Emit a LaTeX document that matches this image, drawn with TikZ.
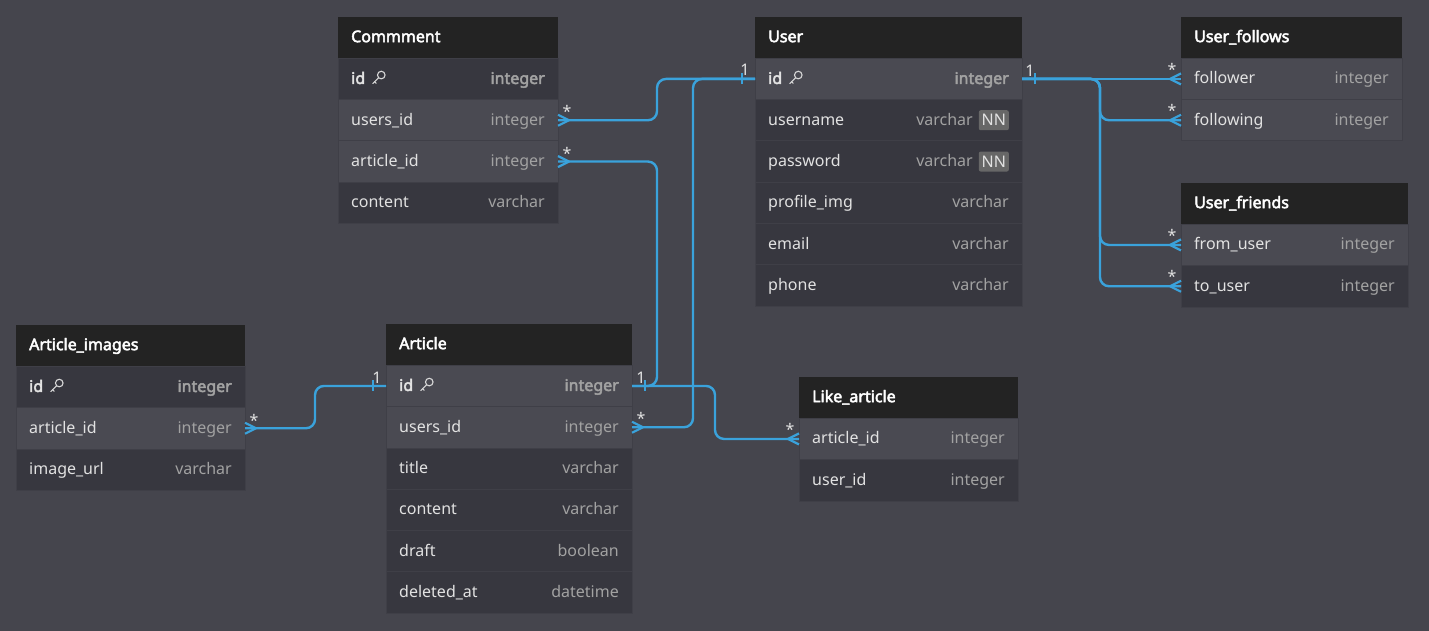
\documentclass[tikz,border=0pt]{standalone}
\usepackage{fontspec}
\setmainfont{Noto Sans}[BoldFont={Noto Sans},BoldFeatures={FakeBold=3}]
\usetikzlibrary{calc}
\definecolor{bgc}{HTML}{45454D}
\definecolor{hdc}{HTML}{232323}
\definecolor{lrow}{HTML}{4A4A52}
\definecolor{drow}{HTML}{37373F}
\definecolor{sepc}{HTML}{3F3F47}
\definecolor{ftxt}{HTML}{E2E2E2}
\definecolor{ttxt}{HTML}{A2A2A2}
\definecolor{linec}{HTML}{3AA2DB}
\definecolor{nnbox}{HTML}{676767}
\definecolor{keyc}{HTML}{D8D8D8}
\tikzset{
  headbox/.style={fill=hdc, draw=none, minimum height=41.3pt, inner sep=0pt, outer sep=0pt},
  rowbox/.style={draw=sepc, line width=0.8pt, minimum height=41.3pt, inner sep=0pt, outer sep=0pt},
  headtxt/.style={text=white, inner sep=0pt, font=\fontsize{16}{19}\selectfont\bfseries},
  fieldtxt/.style={text=ftxt, inner sep=0pt, font=\fontsize{16}{19}\selectfont},
  typetxt/.style={text=ttxt, inner sep=0pt, font=\fontsize{16}{19}\selectfont},
  nnbadge/.style={fill=nnbox, rounded corners=2pt, minimum width=30pt, minimum height=20pt, inner sep=0pt, text=ftxt, font=\fontsize{16}{19}\selectfont},
  conn/.style={draw=linec, line width=2.4pt, rounded corners=9pt, line join=round},
  footline/.style={draw=linec, line width=2.2pt, line join=round},
  card/.style={text=ftxt, inner sep=0pt, font=\fontsize{16}{19}\selectfont},
  keyicon/.pic={
    \draw[keyc, line width=1.1pt] (2.9,-2.9) circle (3.8pt);
    \draw[keyc, line width=1.1pt, line cap=round] (0.2,-0.2) -- (-5.6,5.6);
    \draw[keyc, line width=1.1pt, line cap=round] (-3.8,3.8) -- (-2.2,5.4);
  },
  crowE/.pic={\draw[footline] (0,-5.5) -- (11,0) -- (0,5.5);},
  crowW/.pic={\draw[footline] (0,-5.5) -- (-11,0) -- (0,5.5);},
  tickE/.pic={\draw[footline] (13,-5.5) -- (13,5.5);},
  tickW/.pic={\draw[footline] (-13,-5.5) -- (-13,5.5);}
}
% header: name, x, y, width, title
\newcommand\ehead[5]{%
  \node[headbox, minimum width=#4pt, anchor=north west] (#1) at (#2,#3) {};
  \node[headtxt, anchor=base west] (#1-t) at ([xshift=13pt,yshift=-4.5pt]#1.west) {#5};}
% row: name, position, width, fill, field, type, right padding
\newcommand\erow[7]{%
  \node[rowbox, fill=#4, minimum width=#3pt, anchor=north west] (#1) at (#2) {};
  \node[fieldtxt, anchor=base west] (#1-f) at ([xshift=13pt,yshift=-5pt]#1.west) {#5};
  \node[typetxt, anchor=base east] (#1-t) at ([xshift=-#7pt,yshift=-5pt]#1.east) {#6};}
\begin{document}
\begin{tikzpicture}[x=1pt,y=-1pt]
\fill[bgc] (0,0) rectangle (1429,631);
\useasboundingbox (0,0) rectangle (1429,631);

% ---------- Commment ----------
\ehead{cm}{338}{17}{220}{Commment}
\erow{cm-id}{cm.south west}{220}{drow}{\bfseries id}{\bfseries integer}{13}
\erow{cm-users}{cm-id.south west}{220}{lrow}{users\_id}{integer}{13}
\erow{cm-art}{cm-users.south west}{220}{lrow}{article\_id}{integer}{13}
\erow{cm-content}{cm-art.south west}{220}{drow}{content}{varchar}{13}
\pic at ($(cm-id-f.east |- cm-id.center)+(13,-1)$) {keyicon};

% ---------- User ----------
\ehead{us}{755}{17}{267}{User}
\erow{us-id}{us.south west}{267}{lrow}{\bfseries id}{\bfseries integer}{13}
\erow{us-uname}{us-id.south west}{267}{drow}{username}{varchar}{49}
\erow{us-pass}{us-uname.south west}{267}{drow}{password}{varchar}{49}
\erow{us-img}{us-pass.south west}{267}{drow}{profile\_img}{varchar}{13}
\erow{us-email}{us-img.south west}{267}{drow}{email}{varchar}{13}
\erow{us-phone}{us-email.south west}{267}{drow}{phone}{varchar}{13}
\pic at ($(us-id-f.east |- us-id.center)+(13,-1)$) {keyicon};
\node[nnbadge, anchor=east] (nn1) at ([xshift=-13pt]us-uname.east) {NN};
\node[nnbadge, anchor=east] (nn2) at ([xshift=-13pt]us-pass.east) {NN};

% ---------- User_follows ----------
\ehead{uf}{1181}{17}{221}{User\_follows}
\erow{uf-follower}{uf.south west}{221}{lrow}{follower}{integer}{13}
\erow{uf-following}{uf-follower.south west}{221}{lrow}{following}{integer}{13}

% ---------- User_friends ----------
\ehead{ufr}{1181}{183}{227}{User\_friends}
\erow{ufr-from}{ufr.south west}{227}{lrow}{from\_user}{integer}{13}
\erow{ufr-to}{ufr-from.south west}{227}{drow}{to\_user}{integer}{13}

% ---------- Article_images ----------
\ehead{ai}{16}{325}{229}{Article\_images}
\erow{ai-id}{ai.south west}{229}{drow}{\bfseries id}{\bfseries integer}{13}
\erow{ai-art}{ai-id.south west}{229}{lrow}{article\_id}{integer}{13}
\erow{ai-url}{ai-art.south west}{229}{drow}{image\_url}{varchar}{13}
\pic at ($(ai-id-f.east |- ai-id.center)+(13,-1)$) {keyicon};

% ---------- Article ----------
\ehead{ar}{386}{324}{246}{Article}
\erow{ar-id}{ar.south west}{246}{lrow}{\bfseries id}{\bfseries integer}{13}
\erow{ar-users}{ar-id.south west}{246}{lrow}{users\_id}{integer}{13}
\erow{ar-title}{ar-users.south west}{246}{drow}{title}{varchar}{13}
\erow{ar-content}{ar-title.south west}{246}{drow}{content}{varchar}{13}
\erow{ar-draft}{ar-content.south west}{246}{drow}{draft}{boolean}{13}
\erow{ar-del}{ar-draft.south west}{246}{drow}{deleted\_at}{datetime}{13}
\pic at ($(ar-id-f.east |- ar-id.center)+(13,-1)$) {keyicon};

% ---------- Like_article ----------
\ehead{la}{799}{377}{219}{Like\_article}
\erow{la-art}{la.south west}{219}{lrow}{article\_id}{integer}{13}
\erow{la-user}{la-art.south west}{219}{drow}{user\_id}{integer}{13}

% ---------- bend coordinates ----------
\coordinate (b657) at (657,0);
\coordinate (b693) at (693,0);
\coordinate (b715) at (715,0);
\coordinate (b315) at (315,0);
\coordinate (b1100) at (1100,0);

% ---------- connectors ----------
\draw[conn] (cm-users.east) -- (cm-users.east -| b657) -- (b657 |- us-id.west) -- (us-id.west);
\draw[conn] (cm-art.east) -- (cm-art.east -| b657) -- (b657 |- ar-id.east) -- (ar-id.east);
\draw[conn] (ar-users.east) -- (ar-users.east -| b693) -- (b693 |- us-id.west) -- (us-id.west);
\draw[conn] (ar-id.east) -- (ar-id.east -| b715) -- (b715 |- la-art.west) -- (la-art.west);
\draw[conn] (ai-art.east) -- (ai-art.east -| b315) -- (b315 |- ar-id.west) -- (ar-id.west);
\draw[conn] (us-id.east) -- (uf-follower.west);
\draw[conn] (us-id.east) -- (us-id.east -| b1100) -- (b1100 |- uf-following.west) -- (uf-following.west);
\draw[conn] (us-id.east) -- (us-id.east -| b1100) -- (b1100 |- ufr-from.west) -- (ufr-from.west);
\draw[conn] (us-id.east) -- (us-id.east -| b1100) -- (b1100 |- ufr-to.west) -- (ufr-to.west);

% ---------- ends ----------
\pic at (cm-users.east) {crowE};
\pic at (cm-art.east) {crowE};
\pic at (ar-users.east) {crowE};
\pic at (ai-art.east) {crowE};
\pic at (la-art.west) {crowW};
\pic at (uf-follower.west) {crowW};
\pic at (uf-following.west) {crowW};
\pic at (ufr-from.west) {crowW};
\pic at (ufr-to.west) {crowW};
\pic at (us-id.west) {tickW};
\pic at (us-id.east) {tickE};
\pic at (ar-id.east) {tickE};
\pic at (ar-id.west) {tickW};

% ---------- cardinality labels ----------
\node[card] (l1) at ([xshift=9pt,yshift=8.5pt]cm-users.east) {*};
\node[card] (l2) at ([xshift=9pt,yshift=8.5pt]cm-art.east) {*};
\node[card] (l3) at ([xshift=-10pt,yshift=9.5pt]us-id.west) {1};
\node[card] (l4) at ([xshift=8pt,yshift=8.5pt]us-id.east) {1};
\node[card] (l5) at ([xshift=-9pt,yshift=9.5pt]uf-follower.west) {*};
\node[card] (l6) at ([xshift=-9pt,yshift=9.5pt]uf-following.west) {*};
\node[card] (l7) at ([xshift=-9pt,yshift=9.5pt]ufr-from.west) {*};
\node[card] (l8) at ([xshift=-9pt,yshift=9.5pt]ufr-to.west) {*};
\node[card] (l9) at ([xshift=9pt,yshift=8.5pt]ar-id.east) {1};
\node[card] (l10) at ([xshift=9pt,yshift=9pt]ar-users.east) {*};
\node[card] (l11) at ([xshift=9pt,yshift=8pt]ai-art.east) {*};
\node[card] (l12) at ([xshift=-9pt,yshift=8.5pt]ar-id.west) {1};
\node[card] (l13) at ([xshift=-9pt,yshift=10pt]la-art.west) {*};
\end{tikzpicture}
\end{document}
